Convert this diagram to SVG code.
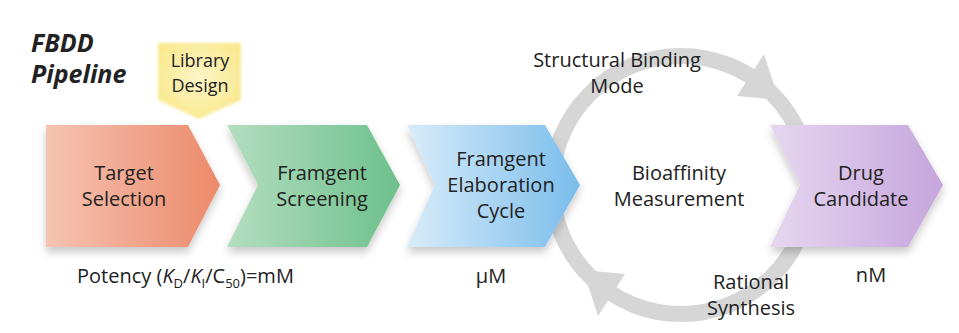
<svg xmlns="http://www.w3.org/2000/svg" width="959" height="333" viewBox="0 0 959 333">
<style>
text{font-family:"Open Sans","Noto Sans","Liberation Sans",sans-serif;fill:#222;}
.lbl{font-size:20px;text-anchor:middle;}
.title{font-size:25px;font-weight:bold;font-style:italic;}
.ring{fill:none;stroke:#d6d6d6;stroke-width:16;}
.head{fill:#d6d6d6;}
.chev{filter:url(#shadow);}
</style>
<defs>
<filter id="shadow" x="-10%" y="-10%" width="120%" height="130%">
<feDropShadow dx="0" dy="5" stdDeviation="4" flood-color="#000" flood-opacity="0.22"/>
</filter>
<filter id="soft" x="-10%" y="-10%" width="120%" height="120%">
<feGaussianBlur stdDeviation="1.5"/>
</filter>
<linearGradient id="gRed" x1="0" y1="0" x2="1" y2="0">
<stop offset="0" stop-color="#f6c3b3"/><stop offset="1" stop-color="#ec8a6a"/>
</linearGradient>
<linearGradient id="gGreen" x1="0" y1="0" x2="1" y2="0">
<stop offset="0" stop-color="#b4dec0"/><stop offset="1" stop-color="#6dc08c"/>
</linearGradient>
<linearGradient id="gBlue" x1="0" y1="0" x2="1" y2="0">
<stop offset="0" stop-color="#d8ecf9"/><stop offset="1" stop-color="#7abdec"/>
</linearGradient>
<linearGradient id="gPurple" x1="0" y1="0" x2="1" y2="0">
<stop offset="0" stop-color="#e6d7f0"/><stop offset="1" stop-color="#c6a5dc"/>
</linearGradient>
<radialGradient id="gYellow" cx="0.5" cy="0.45" r="0.6">
<stop offset="0" stop-color="#fdf5c6"/><stop offset="1" stop-color="#f9e88c"/>
</radialGradient>
</defs>
<rect width="959" height="333" fill="#fff"/>

<g id="title">
<text class="title" x="31" y="52">FBDD</text>
<text class="title" x="31" y="83">Pipeline</text>
</g>

<g id="connectors">
<circle class="ring" cx="681" cy="185" r="129"/>
<polygon class="head" points="764,54 737,96 779,100"/>
<polygon class="head" points="764,54 737,96 779,100" transform="rotate(180 681 185)"/>
</g>

<g id="library-design">
<polygon points="158,43 241,43 241,100 199,119 158,100" fill="url(#gYellow)" filter="url(#soft)"/>
<text class="lbl" x="200" y="67" style="font-size:18px">Library</text>
<text class="lbl" x="200" y="92" style="font-size:18px">Design</text>
</g>

<g id="target-selection">
<polygon class="chev" points="46,125 188,125 220,185 188,247 46,247" fill="url(#gRed)"/>
<text class="lbl" x="124" y="180">Target</text>
<text class="lbl" x="124" y="206">Selection</text>
</g>

<g id="fragment-screening">
<polygon class="chev" points="227,125 367,125 400,185 367,247 227,247 258,185" fill="url(#gGreen)"/>
<text class="lbl" x="322" y="180">Framgent</text>
<text class="lbl" x="322" y="206">Screening</text>
</g>

<g id="fragment-elaboration">
<polygon class="chev" points="407,125 545,125 580,185 545,247 407,247 435,185" fill="url(#gBlue)"/>
<text class="lbl" x="501" y="166">Framgent</text>
<text class="lbl" x="501" y="192">Elaboration</text>
<text class="lbl" x="501" y="218">Cycle</text>
</g>

<g id="bioaffinity">
<text class="lbl" x="679" y="180">Bioaffinity</text>
<text class="lbl" x="679" y="206">Measurement</text>
</g>

<g id="structural-binding">
<text class="lbl" x="617" y="67">Structural Binding</text>
<text class="lbl" x="617" y="93">Mode</text>
</g>

<g id="rational-synthesis">
<text class="lbl" x="751" y="289">Rational</text>
<text class="lbl" x="751" y="315">Synthesis</text>
</g>

<g id="drug-candidate">
<polygon class="chev" points="770,125 908,125 943,185 908,247 770,247 800,185" fill="url(#gPurple)"/>
<text class="lbl" x="861" y="180">Drug</text>
<text class="lbl" x="861" y="206">Candidate</text>
</g>

<g id="potency">
<text x="77" y="283" style="font-size:20px">Potency (<tspan font-style="italic">K</tspan><tspan dy="5" style="font-size:13px">D</tspan><tspan dy="-5">/</tspan><tspan font-style="italic">K</tspan><tspan dy="5" style="font-size:13px">I</tspan><tspan dy="-5">/C</tspan><tspan dy="5" style="font-size:13px">50</tspan><tspan dy="-5">)=mM</tspan></text>
<text class="lbl" x="491" y="283">μM</text>
<text class="lbl" x="871" y="282">nM</text>
</g>
</svg>
